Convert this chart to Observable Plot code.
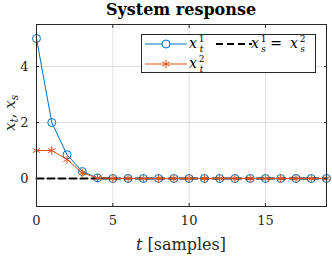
<!DOCTYPE html>
<html><head><meta charset="utf-8">
<script src="https://cdn.jsdelivr.net/npm/d3@7"></script>
<script src="https://cdn.jsdelivr.net/npm/@observablehq/plot@0.6"></script>
<style>body{margin:0;background:#fff}svg{display:block}</style>
</head><body><div id="chart"></div>
<script>
const t = [0,1,2,3,4,5,6,7,8,9,10,11,12,13,14,15,16,17,18,19];
const x1 = [5,2,0.85,0.25,0.02,0,0,0,0,0,0,0,0,0,0,0,0,0,0,0];
const x2 = [1,1,0.68,0.2,0.02,0,0,0,0,0,0,0,0,0,0,0,0,0,0,0];
const xs = [0,0,0,0,0,0,0,0,0,0,0,0,0,0,0,0,0,0,0,0];
const xTicks = [0,5,10,15];
const yTicks = [0,2,4];
const xDomain = [0,19];
const yDomain = [-1,5.5];
const title = "System response";

const blue = "#0072BD", orange = "#D95319", axisColor = "#262626";
const serif = "DejaVu Serif, serif";

const d1 = t.map((v,i)=>({t:v, y:x1[i]}));
const d2 = t.map((v,i)=>({t:v, y:x2[i]}));
const ds = t.map((v,i)=>({t:v, y:xs[i]}));

const plot = Plot.plot({
  width:332, height:256,
  marginTop:24, marginRight:6, marginBottom:50, marginLeft:36,
  style:{fontFamily:serif, fontSize:"13px", color:axisColor, background:"white"},
  x:{domain:xDomain}, y:{domain:yDomain},
  marks:[
    Plot.gridX(xTicks,{stroke:"#e0e0e0", strokeOpacity:1}),
    Plot.gridY(yTicks,{stroke:"#e0e0e0", strokeOpacity:1}),
    Plot.line(d1,{x:"t", y:"y", stroke:blue, strokeWidth:1}),
    Plot.dot(d1,{x:"t", y:"y", stroke:blue, fill:"none", r:4, strokeWidth:1}),
    Plot.line(ds,{x:"t", y:"y", stroke:"black", strokeWidth:2, strokeDasharray:"7,4"}),
    Plot.line(d2,{x:"t", y:"y", stroke:orange, strokeWidth:1}),
    Plot.dot(d2,{x:"t", y:"y", stroke:orange, symbol:"asterisk", r:4, strokeWidth:1}),
    Plot.frame({stroke:axisColor}),
    Plot.axisX(xTicks,{anchor:"bottom", tickSize:-3, tickPadding:12, label:null, stroke:axisColor, fill:axisColor, fontSize:13, fontFamily:serif}),
    Plot.axisX(xTicks,{anchor:"top", tickSize:-3, tickFormat:()=>"", label:null, stroke:axisColor}),
    Plot.axisY(yTicks,{anchor:"left", tickSize:-3, tickPadding:11, label:null, stroke:axisColor, fill:axisColor, fontSize:13, fontFamily:serif}),
    Plot.axisY(yTicks,{anchor:"right", tickSize:-3, tickFormat:()=>"", label:null, stroke:axisColor})
  ]
});
document.getElementById("chart").append(plot);

const svg = d3.select(plot);
const xr = plot.scale("x").range, yr = plot.scale("y").range;
const cx = (xr[0]+xr[1])/2, cy = (yr[0]+yr[1])/2;

// title
svg.append("text").attr("x",cx).attr("y",15).attr("text-anchor","middle")
  .attr("font-family",serif).attr("font-weight","bold").attr("font-size",16)
  .attr("fill","black").text(title);

// x label
const xl = svg.append("text").attr("x",cx).attr("y",250).attr("text-anchor","middle")
  .attr("font-family",serif).attr("font-size",16).attr("fill",axisColor);
xl.append("tspan").attr("font-style","italic").text("t");
xl.append("tspan").text(" [samples]");

// y label
const yl = svg.append("text").attr("transform",`translate(14.5,${cy-2}) rotate(-90)`)
  .attr("text-anchor","middle").attr("font-family",serif).attr("font-size",15).attr("fill",axisColor);
yl.append("tspan").attr("font-style","italic").text("x");
yl.append("tspan").attr("font-style","italic").attr("font-size",10.5).attr("dy",3).text("t");
yl.append("tspan").attr("dy",-3).text(", ");
yl.append("tspan").attr("font-style","italic").text("x");
yl.append("tspan").attr("font-style","italic").attr("font-size",10.5).attr("dy",3).text("s");

// legend
const lg = svg.append("g");
lg.append("rect").attr("x",141.5).attr("y",34.5).attr("width",174).attr("height",38)
  .attr("fill","white").attr("stroke",axisColor);

function xSym(g, x, y, sub, sup){
  g.append("text").attr("x",x).attr("y",y).attr("font-family",serif).attr("font-style","italic")
    .attr("font-size",14).attr("fill","black").text("x");
  g.append("text").attr("x",x+8.5).attr("y",y-6).attr("font-family",serif)
    .attr("font-size",9).attr("fill","black").text(sup);
  g.append("text").attr("x",x+8.5).attr("y",y+3.5).attr("font-family",serif).attr("font-style","italic")
    .attr("font-size",9).attr("fill","black").text(sub);
}
const r1 = 44, r2 = 64;
lg.append("line").attr("x1",145).attr("x2",187).attr("y1",r1).attr("y2",r1).attr("stroke",blue);
lg.append("circle").attr("cx",166).attr("cy",r1).attr("r",4).attr("fill","white").attr("stroke",blue);
xSym(lg,193,r1+4,"t","1");
lg.append("line").attr("x1",216).attr("x2",252).attr("y1",r1).attr("y2",r1)
  .attr("stroke","black").attr("stroke-width",2).attr("stroke-dasharray","7,4");
xSym(lg,255,r1+4,"s","1");
lg.append("text").attr("x",276).attr("y",r1+4).attr("font-family",serif).attr("font-size",14).attr("fill","black").text("=");
xSym(lg,294,r1+4,"s","2");
lg.append("line").attr("x1",145).attr("x2",187).attr("y1",r2).attr("y2",r2).attr("stroke",orange);
lg.append("path").attr("transform",`translate(166,${r2})`)
  .attr("d",d3.symbol(d3.symbolAsterisk, 16*Math.PI)()).attr("fill","none").attr("stroke",orange);
xSym(lg,193,r2+4,"t","2");
</script>
</body></html>
